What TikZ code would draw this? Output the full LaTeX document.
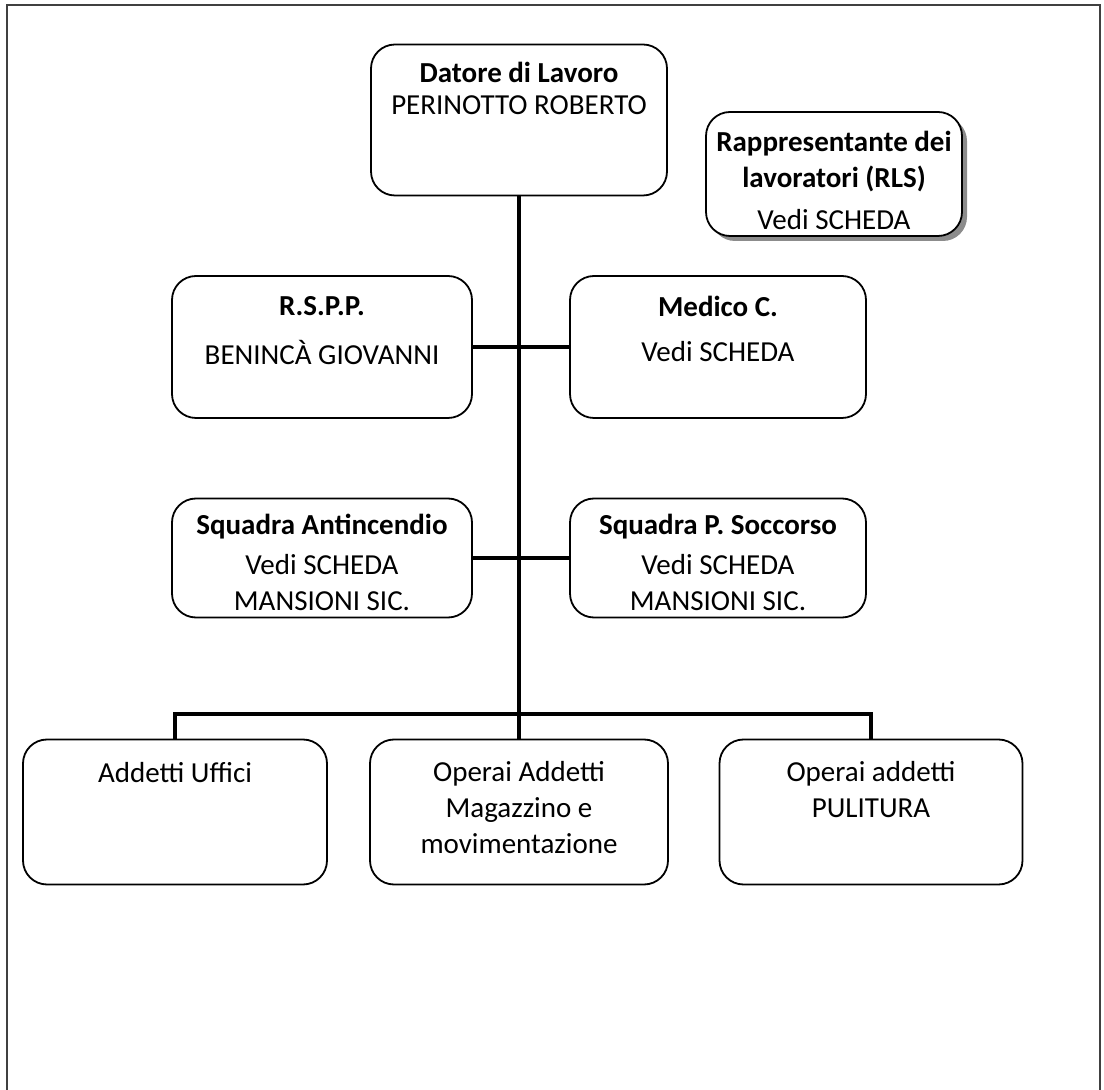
\documentclass[tikz,border=0pt]{standalone}
\usepackage{fontspec}
\setmainfont{Carlito}
\begin{document}
\begin{tikzpicture}[x=0.5pt,y=-0.5pt]
\tikzset{orgbox/.style={draw,fill=white,line width=0.9pt,rounded corners=12pt,minimum width=149pt,minimum height=71pt,inner sep=0pt},
  txt/.style={font=\fontsize{14.5}{18}\selectfont,align=center,inner sep=0pt},
  btxt/.style={txt,font=\fontsize{14.5}{18}\selectfont\bfseries},
  link/.style={line width=2.4pt}}
\useasboundingbox (0,0) rectangle (1104,1090);
\draw[line width=0.8pt,black!75] (7,1090) -- (7,5) -- (1100,5) -- (1100,1090);

\node[orgbox,minimum width=148pt,minimum height=75.5pt] (datore) at (519,120) {};
\node[btxt] (datoreT) at (519,72) {Datore di Lavoro};
\node[txt] (datoreN) at (519,105) {PERINOTTO ROBERTO};

% RLS with grey shadow
\node[orgbox,draw=none,fill=black!45,minimum width=128pt,minimum height=62pt] (rlsShadow) at (839,179) {};
\node[orgbox,minimum width=128pt,minimum height=62pt] (rls) at (834,174) {};
\node[btxt] (rlsT) at (834,162) {Rappresentante dei\\lavoratori (RLS)};
\node[txt] (rlsN) at (834,220) {Vedi SCHEDA};

\node[orgbox,minimum width=150pt] (rspp) at (322,347) {};
\node[btxt] (rsppT) at (322,306) {R.S.P.P.};
\node[txt] (rsppN) at (322,352) {BENINCÀ GIOVANNI};

\node[orgbox,minimum width=148pt] (medico) at (718,347) {};
\node[btxt] (medicoT) at (718,306) {Medico C.};
\node[txt] (medicoN) at (718,352) {Vedi SCHEDA};

\node[orgbox,minimum width=150pt,minimum height=59.5pt] (antinc) at (322,558) {};
\node[btxt] (antincT) at (322,527) {Squadra Antincendio};
\node[txt] (antincN) at (322,583) {Vedi SCHEDA\\MANSIONI SIC.};

\node[orgbox,minimum width=148pt,minimum height=59.5pt] (soccorso) at (718,558) {};
\node[btxt] (soccorsoT) at (718,527) {Squadra P. Soccorso};
\node[txt] (soccorsoN) at (718,583) {Vedi SCHEDA\\MANSIONI SIC.};

\node[orgbox,minimum width=152pt,minimum height=72.5pt] (uffici) at (175,812) {};
\node[txt] (ufficiT) at (175,773) {Addetti Uffici};

\node[orgbox,minimum width=149pt,minimum height=72.5pt] (magazzino) at (519,812) {};
\node[txt] (magazzinoT) at (519,808) {Operai Addetti\\Magazzino e\\movimentazione};

\node[orgbox,minimum width=151.5pt,minimum height=72.5pt] (pulitura) at (871,812) {};
\node[txt] (pulituraT) at (871,790) {Operai addetti\\PULITURA};

\coordinate (bar) at (519,714);
\path (datore) edge [link] (magazzino);
\path (rspp) edge [link] (medico);
\path (antinc) edge [link] (soccorso);
\draw[link] (uffici.north) |- (bar) -| (pulitura.north);
\end{tikzpicture}
\end{document}
